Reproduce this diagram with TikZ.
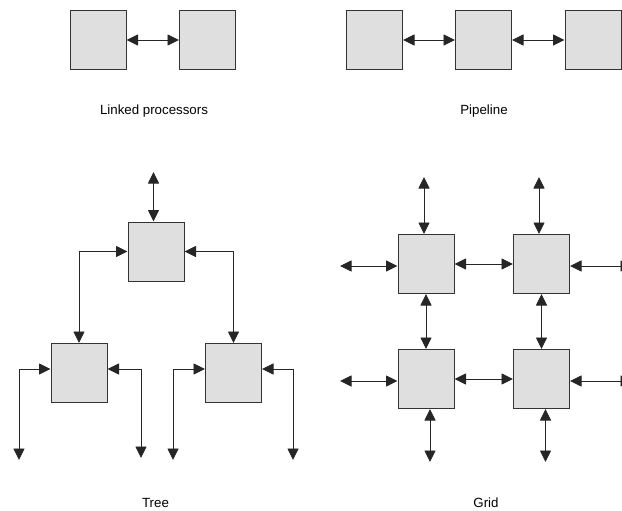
\documentclass[tikz,border=0pt]{standalone}
\usepackage{fontspec}
\setmainfont{Liberation Sans}
\usetikzlibrary{arrows.meta}

\begin{document}
\begin{tikzpicture}[x=1pt, y=-1pt,
    >={Triangle[length=11.5pt,width=11pt]},
    proc/.style={draw=black!80, line width=1pt, fill=gray!25, minimum width=56pt, minimum height=59pt, inner sep=0pt},
    link/.style={draw=black!85, line width=0.9pt, <->},
    caption/.style={anchor=base, inner sep=0pt, font=\fontsize{13.3}{16}\selectfont}]
    \useasboundingbox (0, 0) rectangle (622, 511);
    \begin{scope}
        \node[proc] (lp1) at (98, 40) {};
        \node[proc] (lp2) at (207.5, 40) {};
        \draw[link] (lp1) -- (lp2);
        \node[caption] (capLinked) at (154, 114) {Linked processors};
    \end{scope}
    \begin{scope}
        \node[proc] (pl1) at (374.5, 40) {};
        \node[proc] (pl2) at (483.5, 40) {};
        \node[proc] (pl3) at (593, 40) {};
        \draw[link] (pl1) -- (pl2);
        \draw[link] (pl2) -- (pl3);
        \node[caption] (capPipe) at (484, 114) {Pipeline};
    \end{scope}
    \begin{scope}
        \node[proc] (tt) at (156, 251.5) {};
        \node[proc] (tl) at (79, 373) {};
        \node[proc] (tr) at (233.5, 373) {};
        \coordinate (ttop) at (153.5, 172);
        \coordinate (lf1) at (19, 460);
        \coordinate (lf2) at (141, 458);
        \coordinate (lf3) at (173, 460);
        \coordinate (lf4) at (293, 460);
        \draw[link] (ttop) -- (ttop |- tt.north);
        \draw[link] (tt.west) -| (tl.north);
        \draw[link] (tt.east) -| (tr.north);
        \draw[link] ([yshift=4pt]tl.west) -| (lf1);
        \draw[link] ([yshift=4pt]tl.east) -| (lf2);
        \draw[link] ([yshift=4pt]tr.west) -| (lf3);
        \draw[link] ([yshift=4pt]tr.east) -| (lf4);
        \node[caption] (capTree) at (155.5, 507) {Tree};
    \end{scope}
    \begin{scope}
        \node[proc] (g1) at (426, 264) {};
        \node[proc] (g2) at (541.5, 264) {};
        \node[proc] (g3) at (426, 379) {};
        \node[proc] (g4) at (541.5, 379) {};
        \coordinate (g1n) at (424, 177);
        \coordinate (g2n) at (539, 177);
        \coordinate (g1w) at (340, 266);
        \coordinate (g3w) at (340, 381);
        \coordinate (g2e) at (632, 266);
        \coordinate (g4e) at (632, 381);
        \coordinate (g3s) at (430, 462);
        \coordinate (g4s) at (545.5, 462);
        \draw[link] (g1n) -- (g1n |- g1.north);
        \draw[link] (g2n) -- (g2n |- g2.north);
        \draw[link] (g1w) -- (g1w -| g1.west);
        \draw[link] (g3w) -- (g3w -| g3.west);
        \draw[link] (g2e -| g2.east) -- (g2e);
        \draw[link] (g4e -| g4.east) -- (g4e);
        \draw[link] (g3s |- g3.south) -- (g3s);
        \draw[link] (g4s |- g4.south) -- (g4s);
        \draw[link] (g1) -- (g2);
        \draw[link] (g3) -- (g4);
        \draw[link] (g1) -- (g3);
        \draw[link] (g2) -- (g4);
        \node[caption] (capGrid) at (486, 507) {Grid};
    \end{scope}
\end{tikzpicture}
\end{document}
